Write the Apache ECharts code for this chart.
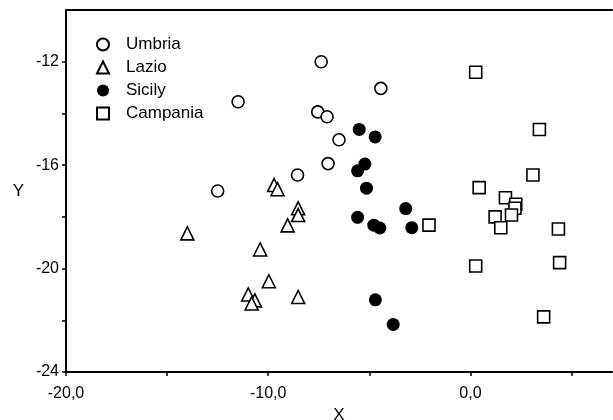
<!DOCTYPE html>
<html>
<head>
<meta charset="utf-8">
<script src="https://cdn.jsdelivr.net/npm/echarts@6/dist/echarts.min.js"></script>
<style>
  html, body { margin: 0; padding: 0; background: #fff; }
  #chart { width: 613px; height: 420px; }
</style>
</head>
<body>
<div id="chart"></div>
<script>
// points, [x, y]
var umbria = [
    [-7.38, -12.0], [-11.49, -13.55], [-4.43, -13.03], [-7.55, -13.94],
    [-7.09, -14.13], [-6.5, -15.02], [-7.04, -15.94], [-8.55, -16.38],
    [-12.5, -17.0]
];
var lazio = [
    [-9.71, -16.77], [-9.54, -16.93], [-8.52, -17.67], [-8.52, -17.93],
    [-9.04, -18.33], [-14.0, -18.64], [-10.4, -19.26], [-9.97, -20.49],
    [-10.99, -21.0], [-10.66, -21.23], [-10.82, -21.35], [-8.52, -21.1]
];
var sicily = [
    [-5.5, -14.62], [-4.71, -14.91], [-5.22, -15.96], [-5.58, -16.22],
    [-5.14, -16.89], [-3.2, -17.68], [-5.58, -18.02], [-4.78, -18.32],
    [-4.48, -18.43], [-2.9, -18.42], [-4.7, -21.21], [-3.82, -22.16]
];
var campania = [
    [-2.05, -18.32], [0.26, -12.41], [3.41, -14.62], [3.09, -16.38],
    [0.43, -16.87], [1.73, -17.26], [2.24, -17.51], [2.2, -17.67],
    [2.03, -17.93], [1.22, -18.0], [1.5, -18.42], [4.35, -18.47],
    [0.26, -19.9], [4.41, -19.77], [3.62, -21.87]
];
var xTickLabels = [-20, -10, 0];
var yTickLabels = [-24, -20, -16, -12];

var chartDom = document.getElementById('chart');
var myChart = echarts.init(chartDom, null, { renderer: 'canvas' });
var font = 'Liberation Sans, Arial, sans-serif';

function hollow(name, symbol, size, data) {
    return {
        name: name,
        type: 'scatter',
        symbol: symbol,
        symbolSize: size,
        data: data,
        itemStyle: { color: '#fff', borderColor: '#000', borderWidth: 1.6, opacity: 1 },
        emphasis: { disabled: true }
    };
}

var option = {
    animation: false,
    backgroundColor: '#fff',
    grid: { left: 66, right: 1, top: 10, bottom: 48, outerBoundsMode: 'none', containLabel: false },
    legend: {
        orient: 'vertical',
        left: 91,
        top: 31,
        itemWidth: 12,
        itemHeight: 12,
        itemGap: 6,
        textStyle: { fontFamily: font, fontSize: 17, color: '#000', padding: [0, 0, 0, 12] },
        data: ['Umbria', 'Lazio', 'Sicily', 'Campania']
    },
    xAxis: [{
        type: 'value',
        min: -20,
        max: 7,
        interval: 5,
        name: 'X',
        nameLocation: 'middle',
        nameGap: 30,
        nameTextStyle: { fontFamily: font, fontSize: 17, color: '#000' },
        axisLine: { onZero: false, lineStyle: { color: '#000', width: 2 } },
        axisTick: { length: 4, lineStyle: { color: '#000', width: 1.5 } },
        splitLine: { show: false },
        axisLabel: {
            fontFamily: font, fontSize: 16, color: '#000', margin: 14,
            showMaxLabel: false,
            formatter: function (v) {
                return xTickLabels.indexOf(v) >= 0 ? v.toFixed(1).replace('.', ',') : '';
            }
        }
    }, {
        type: 'value',
        position: 'top',
        min: -20,
        max: 7,
        axisLine: { onZero: false, lineStyle: { color: '#000', width: 2 } },
        axisTick: { show: false },
        axisLabel: { show: false },
        splitLine: { show: false }
    }],
    yAxis: {
        type: 'value',
        min: -24,
        max: -10,
        interval: 2,
        name: 'Y',
        nameLocation: 'middle',
        nameRotate: 0,
        nameGap: 42,
        nameTextStyle: { fontFamily: font, fontSize: 17, color: '#000', padding: [8, 0, 0, 0] },
        axisLine: { onZero: false, lineStyle: { color: '#000', width: 2 } },
        axisTick: { length: 4, lineStyle: { color: '#000', width: 1.5 } },
        splitLine: { show: false },
        axisLabel: {
            fontFamily: font, fontSize: 16, color: '#000', margin: 7,
            showMaxLabel: false,
            formatter: function (v) {
                return yTickLabels.indexOf(v) >= 0 ? String(v) : '';
            }
        }
    },
    series: [
        hollow('Umbria', 'circle', 12, umbria),
        hollow('Lazio', 'triangle', 13, lazio),
        {
            name: 'Sicily',
            type: 'scatter',
            symbol: 'circle',
            symbolSize: 13,
            data: sicily,
            itemStyle: { color: '#000', opacity: 1 },
            emphasis: { disabled: true }
        },
        hollow('Campania', 'rect', 12, campania)
    ]
};

option && myChart.setOption(option);
</script>
</body>
</html>
